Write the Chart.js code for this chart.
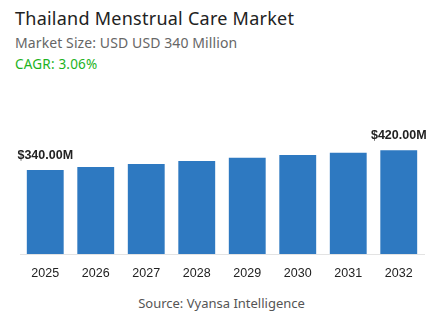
<!DOCTYPE html>
<html>
<head>
<meta charset="utf-8">
<script src="https://cdn.jsdelivr.net/npm/chart.js@4.4.0/dist/chart.umd.min.js"></script>
<style>
  html, body { margin: 0; padding: 0; background: #fff; }
  body { width: 443px; height: 332px; position: relative; overflow: hidden; font-family: "Noto Sans", Inter, sans-serif; }
  .title { position: absolute; left: 15px; top: 6px; font-size: 18px; color: #222; font-weight: 400; letter-spacing: 0.25px; }
  .sub { position: absolute; left: 15px; top: 33px; font-size: 14px; color: #666; letter-spacing: 0.1px; }
  .cagr { position: absolute; left: 15px; top: 55px; font-size: 13.5px; color: #1db31d; letter-spacing: 0.2px; }
  .src { position: absolute; left: 0; width: 443px; top: 294px; text-align: center; font-size: 13px; color: #555; }
  #wrap { position: absolute; left: 0; top: 100px; width: 443px; height: 193px; }
</style>
</head>
<body>
<div class="title">Thailand Menstrual Care Market</div>
<div class="sub">Market Size: USD USD 340 Million</div>
<div class="cagr">CAGR: 3.06%</div>
<div id="wrap"><canvas id="chart"></canvas></div>
<div class="src">Source: Vyansa Intelligence</div>
<script>
const years = ['2025', '2026', '2027', '2028', '2029', '2030', '2031', '2032'];
const marketSize = [340, 353, 365, 377, 390, 401, 410, 420];
const shownLabels = ['$340.00M', '', '', '', '', '', '', '$420.00M'];

document.addEventListener('DOMContentLoaded', function() {
    // labels above first and last bar
    const barLabels = {
        id: 'barLabels',
        afterDatasetsDraw(chart) {
            const ctx = chart.ctx;
            const meta = chart.getDatasetMeta(0);
            ctx.save();
            ctx.font = 'bold 12.5px "Liberation Sans", Arial, sans-serif';
            ctx.fillStyle = '#222';
            ctx.textAlign = 'center';
            ctx.textBaseline = 'middle';
            meta.data.forEach(function(bar, i) {
                if (shownLabels[i]) ctx.fillText(shownLabels[i], bar.x, bar.y - 15);
            });
            ctx.restore();
        }
    };

    new Chart(document.getElementById('chart'), {
        type: 'bar',
        data: {
            labels: years,
            datasets: [{
                data: marketSize,
                backgroundColor: '#2e79c1',
                barPercentage: 0.73,
                categoryPercentage: 1
            }]
        },
        options: {
            responsive: true,
            maintainAspectRatio: false,
            animation: false,
            layout: { padding: { left: 20, right: 19, top: 0, bottom: 0 } },
            plugins: { legend: { display: false }, tooltip: { enabled: false } },
            scales: {
                x: {
                    grid: { display: false, drawTicks: false },
                    border: { display: true, color: '#e3e3e3' },
                    ticks: { color: '#222', padding: 12, font: { size: 12.5, family: '"Liberation Sans", Arial, sans-serif' } }
                },
                y: {
                    display: false,
                    min: 0,
                    max: 624
                }
            }
        },
        plugins: [barLabels]
    });
});
</script>
</body>
</html>
